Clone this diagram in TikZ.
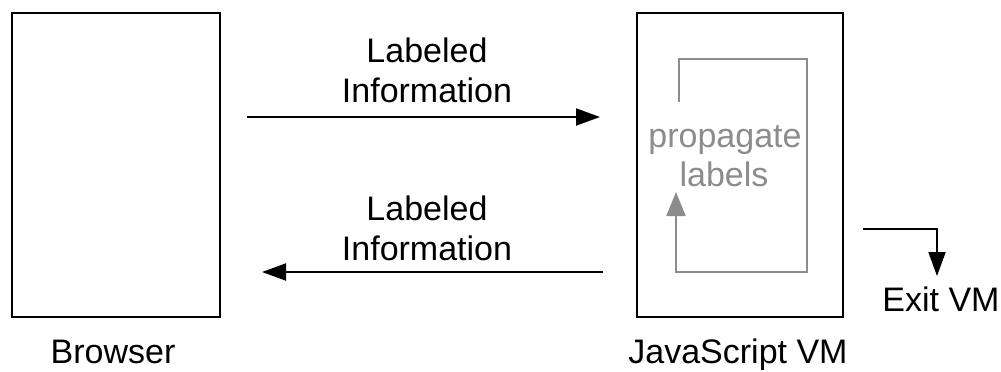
\documentclass[tikz,border=0pt]{standalone}
\usepackage{fontspec}
\setmainfont{Liberation Sans}
\usetikzlibrary{arrows.meta}
\definecolor{loopgray}{RGB}{140,140,140}
\tikzset{
  box/.style={draw, line width=2bp, inner sep=0pt, minimum height=304bp},
  txt/.style={anchor=base, inner sep=0pt, font=\fontsize{34bp}{40bp}\selectfont},
  flow/.style={line width=2bp, -{Triangle[length=24bp,width=17bp]}},
  loop/.style={draw=loopgray, line width=2bp, -{Triangle[length=24bp,width=19bp]}, color=loopgray}
}
\begin{document}
\begin{tikzpicture}[x=1bp, y=-1bp]
  \useasboundingbox (0,0) rectangle (1001,371);

  % the two components
  \node[box, minimum width=208bp] (browser) at (116,165) {};
  \node[box, minimum width=206bp] (jsvm) at (740,165) {};
  \node[txt] (browserlbl) at (113,363) {Browser};
  \node[txt] (jsvmlbl) at (738,363) {JavaScript VM};

  % information flowing to the VM
  \node[txt] (toA) at (427,62) {Labeled};
  \node[txt] (toB) at (427,102) {Information};
  \coordinate (toS) at (247,117);
  \coordinate (toE) at (600,117);
  \draw[flow] (toS) -- (toE);

  % information flowing back to the browser
  \node[txt] (backA) at (427,220) {Labeled};
  \node[txt] (backB) at (427,260) {Information};
  \coordinate (backS) at (603,272);
  \coordinate (backE) at (262,272);
  \draw[flow] (backS) -- (backE);

  % label propagation loop inside the VM
  \node[txt, text=loopgray] (propA) at (725,147) {propagate};
  \node[txt, text=loopgray] (propB) at (724,186) {labels};
  \coordinate (l0) at (679,102);
  \coordinate (l1) at (679,59);
  \coordinate (l2) at (807,59);
  \coordinate (l3) at (807,272);
  \coordinate (l4) at (676,272);
  \coordinate (l5) at (676,192);
  \draw[loop] (l0) -- (l1) -- (l2) -- (l3) -- (l4) -- (l5);

  % leaving the VM
  \coordinate (ex0) at (863,229);
  \coordinate (ex1) at (937,229);
  \coordinate (ex2) at (937,276);
  \draw[flow] (ex0) -- (ex1) -- (ex2);
  \node[txt] (exitlbl) at (941,311) {Exit VM};
\end{tikzpicture}
\end{document}
